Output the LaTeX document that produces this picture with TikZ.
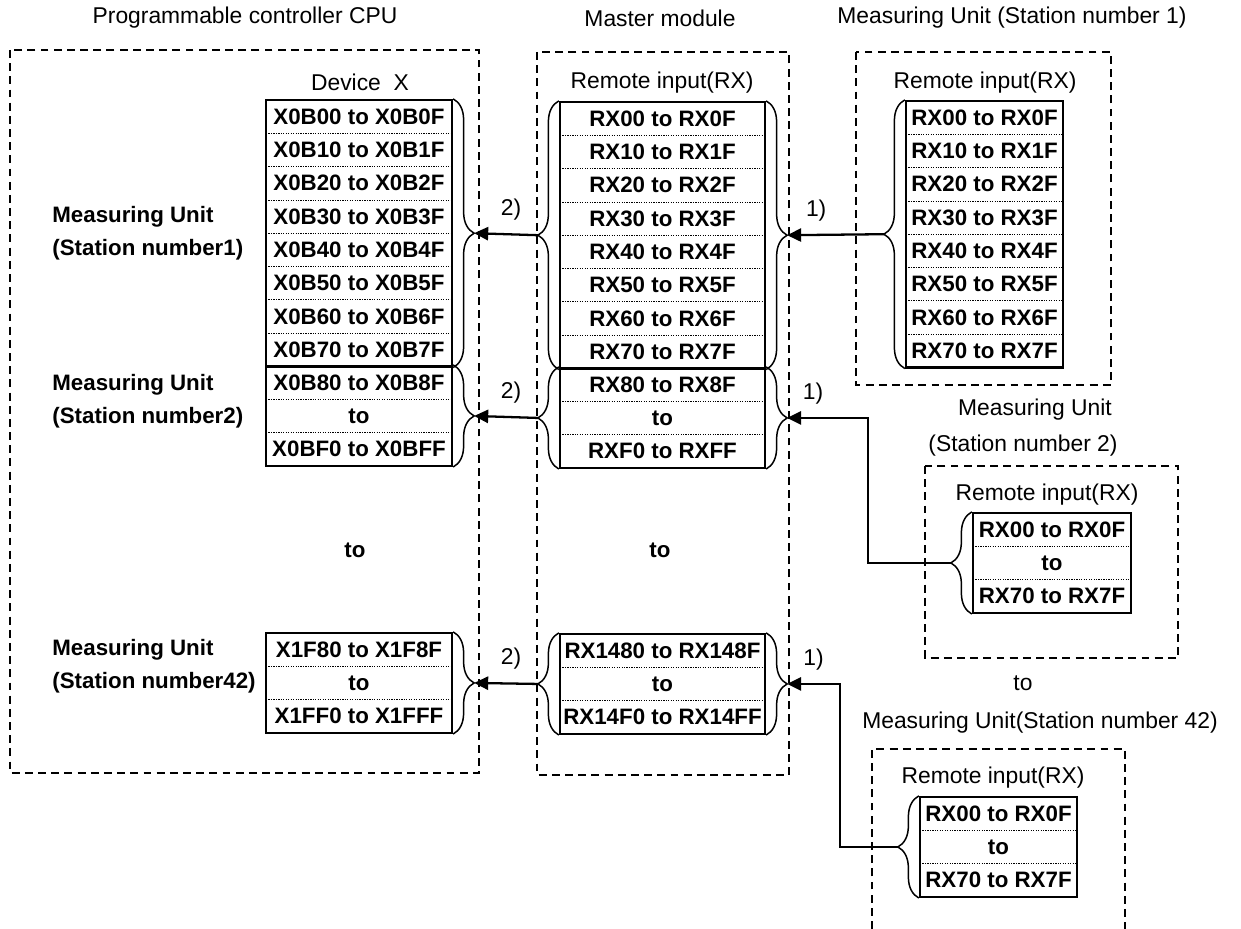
\documentclass[tikz,border=0pt]{standalone}
\usepackage{fontspec}
\setmainfont{Liberation Sans}
\usetikzlibrary{arrows.meta,positioning,fit,calc,decorations.pathreplacing}

\begin{document}
\begin{tikzpicture}[
  x=0.02cm,y=-0.02cm,
  lbl/.style={inner sep=0,font=\fontsize{13}{15}\selectfont},
  unit/.style={inner sep=0,align=left,anchor=west,
    font=\fontsize{12.7}{18.9}\selectfont\bfseries},
  cell/.style={inner sep=0,outer sep=0,minimum height=0.666cm,
    font=\fontsize{12.7}{15}\selectfont\bfseries},
  tbl/.style={draw,line width=1.3pt,inner sep=0},
  sep/.style={line width=0.45pt,dash pattern=on 0.7pt off 0.7pt},
  frame/.style={line width=0.9pt,dash pattern=on 4.5pt off 3pt},
  brc/.style={decorate,decoration={brace,amplitude=0.42cm},line width=0.85pt},
  a/.style={-{Triangle[length=8pt,width=7.5pt]},line width=1.3pt}
]
  \useasboundingbox (0,0) rectangle (1241,929);

  % dashed frames
  \draw[frame] (10,50) rectangle (479,773);
  \draw[frame] (537,52) rectangle (789,775);
  \draw[frame] (856,52) rectangle (1111,385);
  \draw[frame] (925,466) rectangle (1178,658);
  \draw[frame] (872,929) |- (1125,749) -- (1125,929);

  % titles
  \node[lbl] (plcT) at (245,18) {Programmable controller CPU};
  \node[lbl] (mstT) at (660,18) {Master module};
  \node[lbl] (st1T) at (1012,18) {Measuring Unit (Station number 1)};
  \node[lbl] (devX) at (360,82) {Device\ \ X};
  \node[lbl] (m1T) at (662,83) {Remote input(RX)};
  \node[lbl] (s1T) at (985,83) {Remote input(RX)};
  \node[lbl] (s2U) at (1035,410) {Measuring Unit};
  \node[lbl] (s2N) at (1023,446) {(Station number 2)};
  \node[lbl] (s2T) at (1047,495) {Remote input(RX)};
  \node[lbl] (sto) at (1023,683) {to};
  \node[lbl] (s42U) at (1040,723) {Measuring Unit(Station number 42)};
  \node[lbl] (s42T) at (993,778) {Remote input(RX)};

  \node[unit] (u1) at (52,233) {Measuring Unit\\(Station number1)};
  \node[unit] (u2) at (52,401) {Measuring Unit\\(Station number2)};
  \node[unit] (u42) at (52,666) {Measuring Unit\\(Station number42)};
  \node[cell] (pto) at (355,550) {to};
  \node[cell] (mto) at (660,550) {to};

  % 8-row tables
  \foreach \i in {0,...,7}{
    \node[cell,minimum width=3.72cm] (p1-\i) at (359,{116.65+33.3*\i}) {X0B\i0 to X0B\i F};
    \node[cell,minimum width=4.1cm] (m1-\i) at (662.5,{118.65+33.3*\i}) {RX\i0 to RX\i F};
    \node[cell,minimum width=3.14cm] (s1-\i) at (984.5,{117.65+33.3*\i}) {RX\i0 to RX\i F};
  }
  \foreach \t in {p1,m1,s1}{
    \node[tbl,fit=(\t-0)(\t-7)] (\t) {};
    \foreach \i in {0,...,6}
      \draw[sep] (\t-\i.south west) -- (\t-\i.south east);
  }

  % 3-row tables
  \foreach \t/\x/\y/\w/\first/\last in {
      p2/359/366/3.72/X0B80 to X0B8F/X0BF0 to X0BFF,
      p42/359/633/3.72/X1F80 to X1F8F/X1FF0 to X1FFF,
      m2/662.5/368/4.1/RX80 to RX8F/RXF0 to RXFF,
      m42/662.5/634/4.1/RX1480 to RX148F/RX14F0 to RX14FF,
      s2/1052/513/3.16/RX00 to RX0F/RX70 to RX7F,
      s42/998.5/797/3.14/RX00 to RX0F/RX70 to RX7F}{
    \node[cell,minimum width=\w cm] (\t-0) at (\x,\y+16.65) {\first};
    \node[cell,minimum width=\w cm,below=0pt of \t-0] (\t-1) {to};
    \node[cell,minimum width=\w cm,below=0pt of \t-1] (\t-2) {\last};
    \node[tbl,fit=(\t-0)(\t-2)] (\t) {};
    \draw[sep] (\t-0.south west) -- (\t-0.south east);
    \draw[sep] (\t-1.south west) -- (\t-1.south east);
  }

  % braces and their tips
  \foreach \t in {p1,p2,p42,m1,m2,m42}{
    \draw[brc] (\t.north east) -- (\t.south east);
    \coordinate (\t-R) at ([xshift=0.42cm]\t.east);
  }
  \foreach \t in {m1,m2,m42,s1,s2,s42}{
    \draw[brc] (\t.south west) -- (\t.north west);
    \coordinate (\t-L) at ([xshift=-0.42cm]\t.west);
  }
  \coordinate (bend2) at ($(m2-R)+(81,0)$);
  \coordinate (bend42) at ($(m42-R)+(53,0)$);

  % transfers
  \draw[a] (s1-L) -- node[lbl,above=0.26cm,pos=0.7] {1)} (m1-R);
  \draw[a] (s2-L) -| (bend2) -- node[lbl,above=0.26cm,pos=0.68] {1)} (m2-R);
  \draw[a] (s42-L) -| (bend42) -- node[lbl,above=0.26cm,pos=0.5] {1)} (m42-R);
  \foreach \t in {1,2,42}
    \draw[a] (m\t-L) -- node[lbl,above=0.26cm,pos=0.42] {2)} (p\t-R);
\end{tikzpicture}
\end{document}
